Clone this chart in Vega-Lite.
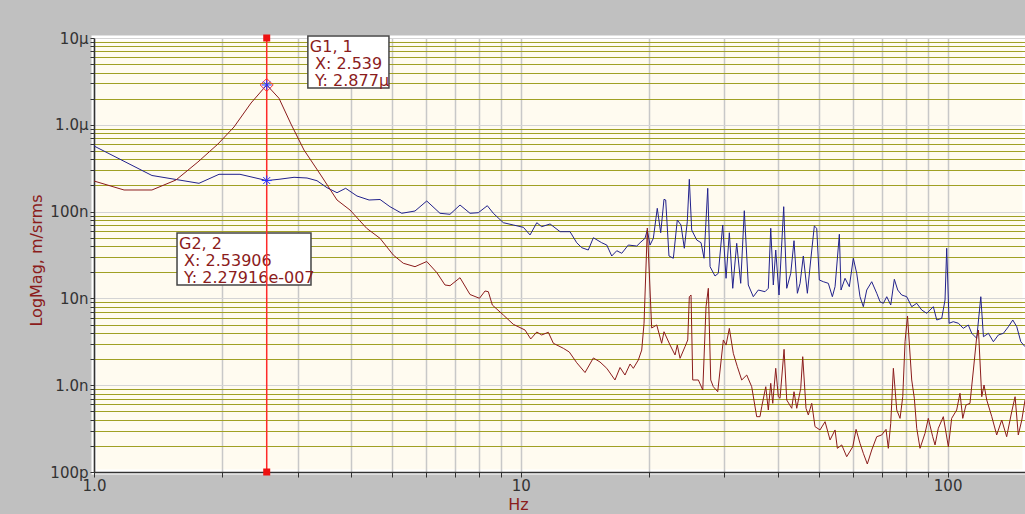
{
 "$schema": "https://vega.github.io/schema/vega-lite/v6.json",
 "width": 931,
 "height": 434,
 "autosize": {"type": "none"},
 "padding": {"left": 94, "top": 38, "right": 0, "bottom": 42},
 "background": "#c0c0c0",
 "config": {"view": {"fill": "#fffbf0", "stroke": "#ffffff", "strokeWidth": 5}, "font": "DejaVu Sans"},
 "datasets": {
  "traces": [
   {"f":1.0,"mag":5.70e-7,"s":"G2"},{"f":1.367,"mag":2.606e-7,"s":"G2"},{"f":1.762,"mag":2.118e-7,"s":"G2"},{"f":1.963,"mag":2.690e-7,"s":"G2"},{"f":2.198,"mag":2.690e-7,"s":"G2"},{"f":2.539,"mag":2.279e-7,"s":"G2"},{"f":2.713,"mag":2.356e-7,"s":"G2"},{"f":2.942,"mag":2.484e-7,"s":"G2"},{"f":3.156,"mag":2.438e-7,"s":"G2"},{"f":3.330,"mag":2.269e-7,"s":"G2"},{"f":3.515,"mag":1.885e-7,"s":"G2"},{"f":3.710,"mag":1.651e-7,"s":"G2"},{"f":3.887,"mag":1.855e-7,"s":"G2"},{"f":4.132,"mag":1.512e-7,"s":"G2"},{"f":4.410,"mag":1.360e-7,"s":"G2"},{"f":4.679,"mag":1.379e-7,"s":"G2"},{"f":4.937,"mag":1.139e-7,"s":"G2"},{"f":5.260,"mag":9.56e-8,"s":"G2"},{"f":5.650,"mag":1.016e-7,"s":"G2"},{"f":6.020,"mag":1.325e-7,"s":"G2"},{"f":6.466,"mag":9.56e-8,"s":"G2"},{"f":6.825,"mag":9.31e-8,"s":"G2"},{"f":7.203,"mag":1.191e-7,"s":"G2"},{"f":7.603,"mag":9.56e-8,"s":"G2"},{"f":7.951,"mag":9.71e-8,"s":"G2"},{"f":8.347,"mag":1.169e-7,"s":"G2"},{"f":8.622,"mag":9.56e-8,"s":"G2"},{"f":9.100,"mag":7.45e-8,"s":"G2"},{"f":9.603,"mag":7.01e-8,"s":"G2"},{"f":10.14,"mag":6.59e-8,"s":"G2"},{"f":10.51,"mag":5.38e-8,"s":"G2"},{"f":10.90,"mag":7.45e-8,"s":"G2"},{"f":11.19,"mag":6.70e-8,"s":"G2"},{"f":11.71,"mag":7.20e-8,"s":"G2"},{"f":12.36,"mag":5.87e-8,"s":"G2"},{"f":13.04,"mag":5.87e-8,"s":"G2"},{"f":13.52,"mag":4.38e-8,"s":"G2"},{"f":13.89,"mag":3.84e-8,"s":"G2"},{"f":14.39,"mag":3.61e-8,"s":"G2"},{"f":14.79,"mag":5.00e-8,"s":"G2"},{"f":15.47,"mag":4.38e-8,"s":"G2"},{"f":15.90,"mag":4.12e-8,"s":"G2"},{"f":16.33,"mag":3.08e-8,"s":"G2"},{"f":16.78,"mag":3.54e-8,"s":"G2"},{"f":17.24,"mag":3.31e-8,"s":"G2"},{"f":17.86,"mag":4.12e-8,"s":"G2"},{"f":18.69,"mag":4.01e-8,"s":"G2"},{"f":19.03,"mag":4.38e-8,"s":"G2"},{"f":19.54,"mag":4.92e-8,"s":"G2"},{"f":19.79,"mag":6.14e-8,"s":"G2"},{"f":20.08,"mag":4.12e-8,"s":"G2"},{"f":20.44,"mag":4.92e-8,"s":"G2"},{"f":20.88,"mag":1.091e-7,"s":"G2"},{"f":21.27,"mag":5.71e-8,"s":"G2"},{"f":21.65,"mag":1.386e-7,"s":"G2"},{"f":21.85,"mag":1.360e-7,"s":"G2"},{"f":22.24,"mag":3.08e-8,"s":"G2"},{"f":22.77,"mag":2.90e-8,"s":"G2"},{"f":23.26,"mag":8.00e-8,"s":"G2"},{"f":23.73,"mag":7.01e-8,"s":"G2"},{"f":24.16,"mag":3.78e-8,"s":"G2"},{"f":24.55,"mag":7.65e-8,"s":"G2"},{"f":24.82,"mag":2.356e-7,"s":"G2"},{"f":25.14,"mag":6.14e-8,"s":"G2"},{"f":25.83,"mag":4.71e-8,"s":"G2"},{"f":26.44,"mag":4.38e-8,"s":"G2"},{"f":26.87,"mag":2.90e-8,"s":"G2"},{"f":27.41,"mag":1.855e-7,"s":"G2"},{"f":27.76,"mag":2.32e-8,"s":"G2"},{"f":28.51,"mag":1.811e-8,"s":"G2"},{"f":29.02,"mag":1.946e-8,"s":"G2"},{"f":29.72,"mag":7.01e-8,"s":"G2"},{"f":30.26,"mag":1.704e-8,"s":"G2"},{"f":30.80,"mag":5.71e-8,"s":"G2"},{"f":31.37,"mag":1.307e-8,"s":"G2"},{"f":32.05,"mag":4.31e-8,"s":"G2"},{"f":32.75,"mag":1.492e-8,"s":"G2"},{"f":33.39,"mag":1.024e-7,"s":"G2"},{"f":34.12,"mag":1.427e-8,"s":"G2"},{"f":35.05,"mag":1.046e-8,"s":"G2"},{"f":36.01,"mag":1.249e-8,"s":"G2"},{"f":37.34,"mag":1.194e-8,"s":"G2"},{"f":38.01,"mag":1.307e-8,"s":"G2"},{"f":38.51,"mag":6.42e-8,"s":"G2"},{"f":39.05,"mag":1.427e-8,"s":"G2"},{"f":39.56,"mag":3.61e-8,"s":"G2"},{"f":40.27,"mag":1.094e-8,"s":"G2"},{"f":41.30,"mag":1.139e-7,"s":"G2"},{"f":41.98,"mag":1.307e-8,"s":"G2"},{"f":42.90,"mag":1.946e-8,"s":"G2"},{"f":43.66,"mag":4.62e-8,"s":"G2"},{"f":44.46,"mag":1.145e-8,"s":"G2"},{"f":45.11,"mag":1.492e-8,"s":"G2"},{"f":45.91,"mag":3.08e-8,"s":"G2"},{"f":46.92,"mag":1.145e-8,"s":"G2"},{"f":47.78,"mag":2.77e-8,"s":"G2"},{"f":48.72,"mag":6.83e-8,"s":"G2"},{"f":49.35,"mag":6.42e-8,"s":"G2"},{"f":50.05,"mag":1.629e-8,"s":"G2"},{"f":51.15,"mag":1.557e-8,"s":"G2"},{"f":52.54,"mag":1.492e-8,"s":"G2"},{"f":53.69,"mag":1.046e-8,"s":"G2"},{"f":54.48,"mag":1.364e-8,"s":"G2"},{"f":55.76,"mag":5.48e-8,"s":"G2"},{"f":56.26,"mag":1.249e-8,"s":"G2"},{"f":57.49,"mag":1.704e-8,"s":"G2"},{"f":58.84,"mag":1.364e-8,"s":"G2"},{"f":60.12,"mag":2.90e-8,"s":"G2"},{"f":61.23,"mag":1.946e-8,"s":"G2"},{"f":62.33,"mag":1.046e-8,"s":"G2"},{"f":63.46,"mag":8.02e-9,"s":"G2"},{"f":64.63,"mag":1.249e-8,"s":"G2"},{"f":66.40,"mag":1.557e-8,"s":"G2"},{"f":68.22,"mag":1.145e-8,"s":"G2"},{"f":69.44,"mag":9.16e-9,"s":"G2"},{"f":70.70,"mag":8.78e-9,"s":"G2"},{"f":72.00,"mag":1.046e-8,"s":"G2"},{"f":73.57,"mag":8.39e-9,"s":"G2"},{"f":75.01,"mag":1.660e-8,"s":"G2"},{"f":76.40,"mag":1.249e-8,"s":"G2"},{"f":78.06,"mag":1.094e-8,"s":"G2"},{"f":80.20,"mag":1.046e-8,"s":"G2"},{"f":82.39,"mag":8.02e-9,"s":"G2"},{"f":84.64,"mag":8.78e-9,"s":"G2"},{"f":86.96,"mag":7.35e-9,"s":"G2"},{"f":89.34,"mag":6.73e-9,"s":"G2"},{"f":92.58,"mag":8.02e-9,"s":"G2"},{"f":94.30,"mag":5.64e-9,"s":"G2"},{"f":96.88,"mag":5.90e-9,"s":"G2"},{"f":98.6,"mag":9.58e-9,"s":"G2"},{"f":99.5,"mag":3.78e-8,"s":"G2"},{"f":100.8,"mag":5.17e-9,"s":"G2"},{"f":103.1,"mag":5.39e-9,"s":"G2"},{"f":106.0,"mag":5.17e-9,"s":"G2"},{"f":108.8,"mag":4.52e-9,"s":"G2"},{"f":111.8,"mag":4.94e-9,"s":"G2"},{"f":113.9,"mag":3.96e-9,"s":"G2"},{"f":117.0,"mag":3.47e-9,"s":"G2"},{"f":119.6,"mag":1.046e-8,"s":"G2"},{"f":121.3,"mag":3.62e-9,"s":"G2"},{"f":124.6,"mag":3.96e-9,"s":"G2"},{"f":128.0,"mag":3.17e-9,"s":"G2"},{"f":131.5,"mag":3.79e-9,"s":"G2"},{"f":135.1,"mag":3.96e-9,"s":"G2"},{"f":138.8,"mag":4.72e-9,"s":"G2"},{"f":142.1,"mag":5.64e-9,"s":"G2"},{"f":145.2,"mag":4.72e-9,"s":"G2"},{"f":148.4,"mag":3.17e-9,"s":"G2"},{"f":151.8,"mag":2.78e-9,"s":"G2"},
   {"f":1.0,"mag":2.25e-7,"s":"G1"},{"f":1.176,"mag":1.774e-7,"s":"G1"},{"f":1.367,"mag":1.774e-7,"s":"G1"},{"f":1.556,"mag":2.312e-7,"s":"G1"},{"f":1.752,"mag":3.73e-7,"s":"G1"},{"f":1.952,"mag":6.01e-7,"s":"G1"},{"f":2.128,"mag":9.43e-7,"s":"G1"},{"f":2.333,"mag":1.783e-6,"s":"G1"},{"f":2.539,"mag":2.877e-6,"s":"G1"},{"f":2.713,"mag":2.020e-6,"s":"G1"},{"f":2.894,"mag":1.021e-6,"s":"G1"},{"f":3.105,"mag":5.12e-7,"s":"G1"},{"f":3.398,"mag":2.641e-7,"s":"G1"},{"f":3.710,"mag":1.360e-7,"s":"G1"},{"f":3.979,"mag":1.043e-7,"s":"G1"},{"f":4.354,"mag":6.42e-8,"s":"G1"},{"f":4.679,"mag":4.92e-8,"s":"G1"},{"f":5.026,"mag":3.16e-8,"s":"G1"},{"f":5.305,"mag":2.54e-8,"s":"G1"},{"f":5.650,"mag":2.32e-8,"s":"G1"},{"f":6.020,"mag":2.66e-8,"s":"G1"},{"f":6.353,"mag":1.988e-8,"s":"G1"},{"f":6.643,"mag":1.427e-8,"s":"G1"},{"f":6.825,"mag":1.400e-8,"s":"G1"},{"f":7.203,"mag":1.731e-8,"s":"G1"},{"f":7.603,"mag":1.109e-8,"s":"G1"},{"f":8.002,"mag":1.003e-8,"s":"G1"},{"f":8.245,"mag":1.217e-8,"s":"G1"},{"f":8.393,"mag":1.194e-8,"s":"G1"},{"f":8.576,"mag":8.39e-9,"s":"G1"},{"f":9.100,"mag":6.44e-9,"s":"G1"},{"f":9.603,"mag":5.03e-9,"s":"G1"},{"f":10.23,"mag":4.32e-9,"s":"G1"},{"f":10.55,"mag":3.41e-9,"s":"G1"},{"f":10.90,"mag":4.10e-9,"s":"G1"},{"f":11.19,"mag":3.79e-9,"s":"G1"},{"f":11.60,"mag":4.07e-9,"s":"G1"},{"f":11.92,"mag":3.04e-9,"s":"G1"},{"f":12.58,"mag":2.66e-9,"s":"G1"},{"f":12.99,"mag":2.41e-9,"s":"G1"},{"f":13.52,"mag":1.816e-9,"s":"G1"},{"f":14.14,"mag":1.400e-9,"s":"G1"},{"f":14.79,"mag":2.06e-9,"s":"G1"},{"f":15.33,"mag":1.850e-9,"s":"G1"},{"f":15.90,"mag":1.565e-9,"s":"G1"},{"f":16.62,"mag":1.148e-9,"s":"G1"},{"f":17.08,"mag":1.599e-9,"s":"G1"},{"f":17.54,"mag":1.310e-9,"s":"G1"},{"f":18.03,"mag":1.755e-9,"s":"G1"},{"f":18.35,"mag":1.565e-9,"s":"G1"},{"f":18.85,"mag":1.951e-9,"s":"G1"},{"f":19.20,"mag":2.54e-9,"s":"G1"},{"f":19.44,"mag":5.17e-9,"s":"G1"},{"f":19.79,"mag":6.47e-8,"s":"G1"},{"f":20.26,"mag":4.56e-9,"s":"G1"},{"f":20.82,"mag":4.94e-9,"s":"G1"},{"f":21.38,"mag":3.04e-9,"s":"G1"},{"f":21.65,"mag":4.13e-9,"s":"G1"},{"f":22.37,"mag":2.90e-9,"s":"G1"},{"f":22.98,"mag":2.23e-9,"s":"G1"},{"f":23.26,"mag":2.90e-9,"s":"G1"},{"f":23.61,"mag":2.04e-9,"s":"G1"},{"f":24.25,"mag":2.78e-9,"s":"G1"},{"f":24.61,"mag":3.32e-9,"s":"G1"},{"f":24.82,"mag":1.046e-8,"s":"G1"},{"f":25.05,"mag":1.094e-8,"s":"G1"},{"f":25.28,"mag":1.148e-9,"s":"G1"},{"f":26.06,"mag":1.148e-9,"s":"G1"},{"f":26.69,"mag":8.80e-10,"s":"G1"},{"f":27.16,"mag":8.02e-9,"s":"G1"},{"f":27.50,"mag":1.307e-8,"s":"G1"},{"f":27.86,"mag":1.148e-9,"s":"G1"},{"f":28.25,"mag":9.61e-10,"s":"G1"},{"f":28.93,"mag":8.41e-10,"s":"G1"},{"f":29.82,"mag":3.32e-9,"s":"G1"},{"f":30.26,"mag":2.90e-9,"s":"G1"},{"f":30.80,"mag":4.52e-9,"s":"G1"},{"f":31.47,"mag":2.33e-9,"s":"G1"},{"f":32.16,"mag":1.633e-9,"s":"G1"},{"f":32.93,"mag":1.148e-9,"s":"G1"},{"f":33.83,"mag":1.310e-9,"s":"G1"},{"f":34.75,"mag":9.61e-10,"s":"G1"},{"f":35.70,"mag":4.34e-10,"s":"G1"},{"f":36.34,"mag":4.34e-10,"s":"G1"},{"f":36.68,"mag":5.65e-10,"s":"G1"},{"f":37.49,"mag":9.61e-10,"s":"G1"},{"f":38.01,"mag":5.18e-10,"s":"G1"},{"f":38.51,"mag":1.051e-9,"s":"G1"},{"f":38.93,"mag":6.18e-10,"s":"G1"},{"f":39.56,"mag":1.565e-9,"s":"G1"},{"f":40.12,"mag":7.37e-10,"s":"G1"},{"f":40.49,"mag":7.06e-10,"s":"G1"},{"f":41.38,"mag":2.59e-9,"s":"G1"},{"f":41.98,"mag":6.75e-10,"s":"G1"},{"f":43.13,"mag":5.42e-10,"s":"G1"},{"f":43.66,"mag":8.41e-10,"s":"G1"},{"f":44.31,"mag":5.42e-10,"s":"G1"},{"f":45.27,"mag":9.21e-10,"s":"G1"},{"f":45.76,"mag":2.13e-9,"s":"G1"},{"f":46.58,"mag":5.42e-10,"s":"G1"},{"f":47.16,"mag":4.54e-10,"s":"G1"},{"f":48.04,"mag":6.18e-10,"s":"G1"},{"f":48.90,"mag":3.33e-10,"s":"G1"},{"f":50.23,"mag":3.05e-10,"s":"G1"},{"f":51.62,"mag":3.80e-10,"s":"G1"},{"f":53.03,"mag":2.34e-10,"s":"G1"},{"f":54.48,"mag":3.05e-10,"s":"G1"},{"f":55.16,"mag":1.875e-10,"s":"G1"},{"f":56.48,"mag":2.05e-10,"s":"G1"},{"f":58.01,"mag":1.500e-10,"s":"G1"},{"f":59.95,"mag":1.956e-10,"s":"G1"},{"f":61.02,"mag":3.10e-10,"s":"G1"},{"f":62.33,"mag":2.14e-10,"s":"G1"},{"f":63.46,"mag":1.642e-10,"s":"G1"},{"f":64.84,"mag":1.236e-10,"s":"G1"},{"f":66.40,"mag":1.792e-10,"s":"G1"},{"f":68.22,"mag":2.55e-10,"s":"G1"},{"f":70.08,"mag":2.67e-10,"s":"G1"},{"f":71.73,"mag":3.10e-10,"s":"G1"},{"f":72.62,"mag":1.875e-10,"s":"G1"},{"f":73.57,"mag":3.64e-10,"s":"G1"},{"f":74.62,"mag":1.565e-9,"s":"G1"},{"f":75.99,"mag":5.18e-10,"s":"G1"},{"f":77.36,"mag":4.15e-10,"s":"G1"},{"f":78.50,"mag":7.37e-10,"s":"G1"},{"f":79.47,"mag":3.17e-9,"s":"G1"},{"f":80.54,"mag":6.27e-9,"s":"G1"},{"f":82.39,"mag":1.148e-9,"s":"G1"},{"f":83.56,"mag":7.06e-10,"s":"G1"},{"f":84.64,"mag":3.19e-10,"s":"G1"},{"f":86.16,"mag":1.875e-10,"s":"G1"},{"f":88.51,"mag":2.79e-10,"s":"G1"},{"f":90.10,"mag":4.15e-10,"s":"G1"},{"f":92.27,"mag":2.55e-10,"s":"G1"},{"f":93.43,"mag":2.05e-10,"s":"G1"},{"f":95.10,"mag":3.19e-10,"s":"G1"},{"f":97.70,"mag":4.34e-10,"s":"G1"},{"f":100.4,"mag":1.956e-10,"s":"G1"},{"f":102.2,"mag":4.15e-10,"s":"G1"},{"f":105.0,"mag":5.18e-10,"s":"G1"},{"f":106.9,"mag":8.07e-10,"s":"G1"},{"f":108.5,"mag":4.15e-10,"s":"G1"},{"f":110.4,"mag":5.91e-10,"s":"G1"},{"f":112.8,"mag":6.18e-10,"s":"G1"},{"f":114.9,"mag":1.496e-9,"s":"G1"},{"f":117.0,"mag":3.62e-9,"s":"G1"},{"f":118.1,"mag":4.32e-9,"s":"G1"},{"f":120.2,"mag":7.37e-10,"s":"G1"},{"f":121.7,"mag":1.005e-9,"s":"G1"},{"f":123.5,"mag":6.75e-10,"s":"G1"},{"f":126.9,"mag":4.34e-10,"s":"G1"},{"f":130.3,"mag":2.67e-10,"s":"G1"},{"f":133.9,"mag":3.97e-10,"s":"G1"},{"f":137.5,"mag":2.55e-10,"s":"G1"},{"f":141.3,"mag":4.95e-10,"s":"G1"},{"f":143.9,"mag":7.37e-10,"s":"G1"},{"f":146.4,"mag":2.67e-10,"s":"G1"},{"f":149.2,"mag":3.97e-10,"s":"G1"},{"f":151.8,"mag":6.75e-10,"s":"G1"}
  ],
  "boxes": [
   {"x1": 3.17, "x2": 4.91, "y1": 1.054e-5, "y2": 2.65e-6, "label": "G1, 1\n\u200b\u00a0X: 2.539\n\u200b\u00a0Y: 2.877μ"},
   {"x1": 1.565, "x2": 3.224, "y1": 5.67e-8, "y2": 1.427e-8, "label": "G2, 2\n\u200b\u00a0X: 2.53906\n\u200b\u00a0Y: 2.27916e-007"}
  ],
  "cursor": [{"f": 2.539}],
  "ends": [{"f": 2.539, "mag": 1e-5}, {"f": 2.539, "mag": 1e-10}],
  "markers": [{"f": 2.539, "mag": 2.877e-6, "s": "G1"}, {"f": 2.539, "mag": 2.27916e-7, "s": "G2"}]
 },
 "layer": [
  {
   "data": {"name": "traces"},
   "mark": {"type": "line", "strokeWidth": 1, "clip": true},
   "encoding": {
    "x": {"field": "f", "type": "quantitative", "title": "Hz",
     "scale": {"type": "log", "domain": [1, 151.8], "nice": false},
     "axis": {
      "values": [1,2,3,4,5,6,7,8,9,10,20,30,40,50,60,70,80,90,100],
      "labelExpr": "datum.value == 1 ? '1.0' : (datum.value == 10 ? '10' : (datum.value == 100 ? '100' : ''))",
      "labelFont": "DejaVu Sans", "labelFontSize": 15, "labelColor": "#333333",
      "labelOverlap": false, "labelFlush": false, "labelPadding": 1,
      "tickSize": 5, "tickColor": "#333333", "domainColor": "#333333", "domainWidth": 1.5,
      "grid": true, "gridColor": "#c8c8c8", "gridWidth": 1.5,
      "titleColor": "#8b1c1c", "titleFont": "DejaVu Sans", "titleFontSize": 16, "titleFontWeight": "normal",
      "titleX": 424, "titleY": 32, "titleBaseline": "middle", "titleAlign": "center"
     }
    },
    "y": {"field": "mag", "type": "quantitative", "title": "LogMag, m/srms",
     "scale": {"type": "log", "domain": [1e-10, 1e-5], "nice": false},
     "axis": {
      "values": [1e-10,2e-10,3e-10,4e-10,5e-10,6e-10,7e-10,8e-10,9e-10,1e-9,2e-9,3e-9,4e-9,5e-9,6e-9,7e-9,8e-9,9e-9,1e-8,2e-8,3e-8,4e-8,5e-8,6e-8,7e-8,8e-8,9e-8,1e-7,2e-7,3e-7,4e-7,5e-7,6e-7,7e-7,8e-7,9e-7,1e-6,2e-6,3e-6,4e-6,5e-6,6e-6,7e-6,8e-6,9e-6,1e-5],
      "labelExpr": "abs(log(datum.value)/LN10 - round(log(datum.value)/LN10)) > 0.01 ? '' : (round(log(datum.value)/LN10) == -5 ? '10μ' : (round(log(datum.value)/LN10) == -6 ? '1.0μ' : (round(log(datum.value)/LN10) == -7 ? '100n' : (round(log(datum.value)/LN10) == -8 ? '10n' : (round(log(datum.value)/LN10) == -9 ? '1.0n' : '100p')))))",
      "labelFont": "DejaVu Sans", "labelFontSize": 15, "labelColor": "#333333",
      "labelOverlap": false, "labelFlush": false, "labelPadding": 2,
      "tickSize": 4, "tickColor": "#333333", "domainColor": "#333333", "domainWidth": 1.5,
      "grid": true, "gridWidth": 1,
      "gridColor": {"condition": {"test": "abs(log(datum.value)/LN10 - round(log(datum.value)/LN10)) < 0.01", "value": "#d4d4d4"}, "value": "#a0a024"},
      "titleColor": "#8b1c1c", "titleFont": "DejaVu Sans", "titleFontSize": 16, "titleFontWeight": "normal",
      "titleX": -58, "titleY": 222, "titleAngle": -90, "titleBaseline": "middle", "titleAlign": "center"
     }
    },
    "color": {"field": "s", "type": "nominal", "scale": {"domain": ["G1", "G2"], "range": ["#8b1c1c", "#22228c"]}, "legend": null}
   }
  },
  {
   "data": {"name": "boxes"},
   "mark": {"type": "rect", "fill": "#ffffff", "stroke": "#444444", "strokeWidth": 1.5, "clip": false},
   "encoding": {
    "x": {"field": "x1", "type": "quantitative"}, "x2": {"field": "x2"},
    "y": {"field": "y1", "type": "quantitative"}, "y2": {"field": "y2"}
   }
  },
  {
   "data": {"name": "boxes"},
   "mark": {"type": "text", "align": "left", "baseline": "top", "lineBreak": "\n", "lineHeight": 17, "fontSize": 16, "font": "DejaVu Sans", "color": "#8b1c1c", "dx": 2, "dy": 3, "clip": false},
   "encoding": {
    "x": {"field": "x1", "type": "quantitative"},
    "y": {"field": "y1", "type": "quantitative"},
    "text": {"field": "label"}
   }
  },
  {
   "data": {"name": "cursor"},
   "mark": {"type": "rule", "color": "#ff2a2a", "strokeWidth": 1.5},
   "encoding": {"x": {"field": "f", "type": "quantitative"}}
  },
  {
   "data": {"name": "ends"},
   "mark": {"type": "point", "shape": "square", "filled": true, "color": "#ee1111", "size": 49, "opacity": 1, "clip": false},
   "encoding": {"x": {"field": "f", "type": "quantitative"}, "y": {"field": "mag", "type": "quantitative"}}
  },
  {
   "data": {"name": "markers"},
   "transform": [{"filter": "datum.s == 'G1'"}],
   "mark": {"type": "point", "shape": "diamond", "filled": false, "color": "#ff3030", "size": 169, "strokeWidth": 1, "opacity": 1},
   "encoding": {"x": {"field": "f", "type": "quantitative"}, "y": {"field": "mag", "type": "quantitative"}}
  },
  {
   "data": {"name": "markers"},
   "mark": {"type": "point", "shape": "M-1,0L1,0M0,-1L0,1M-0.7,-0.7L0.7,0.7M-0.7,0.7L0.7,-0.7", "filled": false, "color": "#2233ff", "size": 100, "strokeWidth": 1, "opacity": 1},
   "encoding": {"x": {"field": "f", "type": "quantitative"}, "y": {"field": "mag", "type": "quantitative"}}
  }
 ]
}
